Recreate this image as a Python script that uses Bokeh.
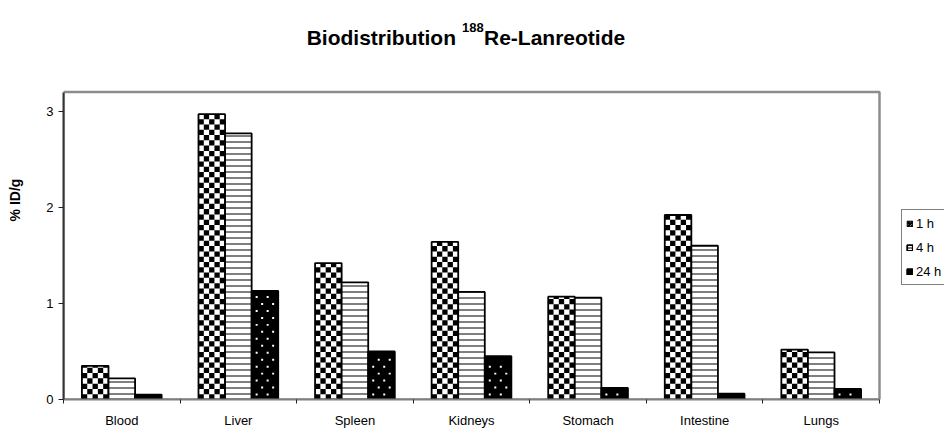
import math

from bokeh.plotting import figure
from bokeh.models import FixedTicker, Legend, LegendItem
from bokeh.core.properties import value
from bokeh.embed import file_html
from bokeh.resources import INLINE

organs = ["Blood", "Liver", "Spleen", "Kidneys", "Stomach", "Intestine", "Lungs"]
h1 = [0.35, 2.97, 1.42, 1.64, 1.07, 1.92, 0.52]
h4 = [0.22, 2.77, 1.22, 1.12, 1.06, 1.60, 0.49]
h24 = [0.05, 1.13, 0.50, 0.45, 0.12, 0.06, 0.11]
series_labels = ["1 h", "4 h", "24 h"]
y_ticks = [0, 1, 2, 3]
title_parts = ["Biodistribution", "188", "Re-Lanreotide"]

FONT = "Liberation Sans"
n = len(organs)
YMAX = 3.2
bw = 0.228

# layout (pixels)
W, H = 944, 430
LEFT, BOTTOM = 63, 29          # borders of the canvas outside the frame
AREA_W, AREA_H = 816, 309      # the visible plot area (box) inside the frame
FRAME_W, FRAME_H = W - LEFT, H - BOTTOM
PX_X = AREA_W / n              # pixels per category
PX_Y = AREA_H / YMAX           # pixels per unit of %ID/g
AREA_TOP = FRAME_H - AREA_H    # pixels from canvas top to plot-area top


def px2x(px):
    return (px - LEFT) / PX_X


def px2y(py):
    return YMAX + (AREA_TOP - py) / PX_Y


p = figure(width=W, height=H,
           x_range=(0, FRAME_W / PX_X), y_range=(0, FRAME_H / PX_Y),
           output_backend="svg", toolbar_location=None,
           min_border_left=LEFT, min_border_right=0, min_border_top=0,
           min_border_bottom=BOTTOM)
p.xgrid.visible = False
p.ygrid.visible = False
p.outline_line_color = None

# plot-area box
p.quad(left=[0], right=[n], bottom=[0], top=[YMAX], fill_color=None,
       line_color="#8c8c8c", line_width=2.5)

centers = [i + 0.5 for i in range(n)]
x1 = [c - bw for c in centers]
x24 = [c + bw for c in centers]

# ---- 1 h: white bar, black checker cells, outline ----
p.vbar(x=x1, top=h1, width=bw, bottom=0, fill_color="white", line_color=None)
ncol = 5
cw = bw / ncol
ch = cw * PX_X / PX_Y
cl, cr, cb, ct = [], [], [], []
for xc, v in zip(x1, h1):
    x0 = xc - bw / 2
    for r in range(int(math.ceil(v / ch))):
        for k in range(ncol):
            if (r + k) % 2 == 0:
                cl.append(x0 + k * cw)
                cr.append(x0 + (k + 1) * cw)
                cb.append(r * ch)
                ct.append(min((r + 1) * ch, v))
p.quad(left=cl, right=cr, bottom=cb, top=ct, fill_color="black", line_color=None)
p.vbar(x=x1, top=h1, width=bw, bottom=0, fill_color=None,
       line_color="black", line_width=1.8)
# legend sample for 1 h (hidden renderer)
r1 = p.vbar(x=x1, top=h1, width=bw, bottom=0, fill_color="white",
            line_color="black", line_width=1, hatch_pattern="criss_cross",
            hatch_color="black", hatch_scale=4, hatch_weight=1.5, visible=False)

# ---- 4 h: horizontal lines ----
r4 = p.vbar(x=centers, top=h4, width=bw, bottom=0,
            fill_color="white", line_color="black", line_width=1.8,
            hatch_pattern="horizontal_line", hatch_color="black",
            hatch_scale=6, hatch_weight=1)

# ---- 24 h: black bar with small white dots ----
r24 = p.vbar(x=x24, top=h24, width=bw, bottom=0,
             fill_color="black", line_color="black", line_width=1.8)
bw_px = bw * PX_X
DOT = 2.0
dl, dr, db, dt = [], [], [], []
for xc, v in zip(x24, h24):
    x0 = xc - bw / 2
    vpx = v * PX_Y
    r = 0
    while 4 + 7 * r + DOT < vpx - 3:
        ypx = 4 + 7 * r
        k = 0
        while True:
            xpx = 4 + 11 * k + (r % 2) * 5.5
            if xpx + DOT > bw_px - 3:
                break
            dl.append(x0 + xpx / PX_X)
            dr.append(x0 + (xpx + DOT) / PX_X)
            db.append(ypx / PX_Y)
            dt.append((ypx + DOT) / PX_Y)
            k += 1
        r += 1
p.quad(left=dl, right=dr, bottom=db, top=dt, fill_color="white", line_color=None)

# x axis: labels at centres, ticks at category boundaries
xa = p.xaxis[0]
xa.bounds = (0, n)
xa.ticker = FixedTicker(ticks=centers, minor_ticks=list(range(n + 1)))
xa.major_label_overrides = {c: o for c, o in zip(centers, organs)}
xa.major_tick_line_color = None
xa.minor_tick_line_color = "#222222"
xa.minor_tick_out = 4
xa.minor_tick_in = 0
xa.axis_line_color = "#808080"
xa.axis_line_width = 2
xa.major_label_text_font = FONT
xa.major_label_text_font_size = "13px"
xa.major_label_text_color = "black"
xa.major_label_standoff = 7

ya = p.yaxis[0]
ya.bounds = (0, YMAX)
ya.ticker = FixedTicker(ticks=y_ticks, minor_ticks=[])
ya.major_tick_out = 5
ya.major_tick_in = 0
ya.major_tick_line_color = "#222222"
ya.axis_line_color = "#333333"
ya.axis_line_width = 2
ya.major_label_text_font = FONT
ya.major_label_text_font_size = "13px"
ya.major_label_text_color = "black"
ya.major_label_standoff = 5
ya.axis_label = "% ID/g"
ya.axis_label_text_font = FONT
ya.axis_label_text_font_size = "14px"
ya.axis_label_text_font_style = "bold"
ya.axis_label_text_color = "black"
ya.axis_label_standoff = 20

# title with superscript mass number
p.text(x=[px2x(455.5)], y=[px2y(37)], text=[title_parts[0]], text_align="right",
       text_baseline="alphabetic", text_font=value(FONT), text_font_size="21px",
       text_font_style="bold", text_color="black")
p.text(x=[px2x(461.5)], y=[px2y(27)], text=[title_parts[1]], text_align="left",
       text_baseline="alphabetic", text_font=value(FONT), text_font_size="13px",
       text_font_style="bold", text_color="black")
p.text(x=[px2x(483.5)], y=[px2y(37)], text=[title_parts[2]], text_align="left",
       text_baseline="alphabetic", text_font=value(FONT), text_font_size="21px",
       text_font_style="bold", text_color="black")

legend = Legend(items=[LegendItem(label=series_labels[0], renderers=[r1]),
                       LegendItem(label=series_labels[1], renderers=[r4]),
                       LegendItem(label=series_labels[2], renderers=[r24])],
                location=(901 - LEFT, FRAME_H - 287), orientation="vertical",
                glyph_width=7, glyph_height=7, label_height=18,
                label_standoff=3, spacing=6, padding=4, margin=0,
                border_line_color="black", border_line_width=1,
                background_fill_color="white", background_fill_alpha=1,
                inactive_fill_alpha=0,
                label_text_font=FONT, label_text_font_size="13px",
                label_text_color="black")
p.add_layout(legend, "center")

open("out.html", "w").write(file_html(p, INLINE))
